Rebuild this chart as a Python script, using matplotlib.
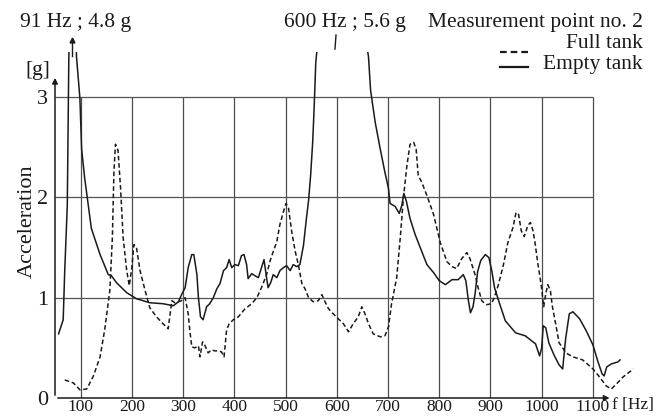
import matplotlib.pyplot as plt

plt.rcParams['font.family'] = ['Liberation Serif', 'DejaVu Serif']

# Empty tank (solid line); peaks at 91 Hz and 600 Hz go past the top and get clipped
empty_f = [57, 66, 69, 74, 76, 77, 85, 92, 98.6, 102, 108, 115, 121, 138, 154, 160, 170, 190,
           209, 235, 261, 281, 291, 297, 304, 310, 317, 321, 327, 330, 334, 339, 346, 352, 359,
           366, 372, 379, 385, 390, 395, 401, 408, 414, 419, 424, 427, 434, 440, 447, 453, 458,
           463, 466, 471, 476, 483, 489, 496, 502, 509, 515, 522, 528, 535, 541, 545, 549, 553,
           556, 559, 600, 662, 666, 675, 685, 694, 701, 704, 714, 722, 727, 731, 736, 743, 753,
           763, 776, 789, 800, 812, 825, 837, 847, 852, 857, 861, 866, 870, 875, 881, 890, 897,
           903, 908, 916, 929, 949, 968, 988, 996, 1000, 1003, 1008, 1014, 1024, 1034, 1041,
           1047, 1054, 1061, 1074, 1087, 1100, 1110, 1118, 1122, 1127, 1136, 1149, 1153]
empty_a = [0.64, 0.78, 1.27, 1.92, 2.91, 3.4, 4.8, 3.4, 2.99, 2.48, 2.19, 1.92, 1.69, 1.43, 1.23,
           1.22, 1.15, 1.05, 0.99, 0.95, 0.94, 0.92, 0.96, 1.03, 1.1, 1.3, 1.43, 1.43, 1.23, 1.0,
           0.81, 0.78, 0.91, 0.94, 1.0, 1.09, 1.14, 1.27, 1.3, 1.38, 1.3, 1.33, 1.32, 1.42, 1.43,
           1.33, 1.19, 1.24, 1.22, 1.2, 1.3, 1.38, 1.2, 1.1, 1.15, 1.23, 1.2, 1.27, 1.3, 1.32,
           1.27, 1.33, 1.31, 1.33, 1.52, 1.8, 1.97, 2.22, 2.55, 2.91, 3.34, 5.6, 3.4, 3.07, 2.75,
           2.48, 2.25, 2.09, 1.94, 1.91, 1.84, 1.92, 2.04, 1.96, 1.79, 1.63, 1.5, 1.33, 1.25,
           1.17, 1.13, 1.18, 1.18, 1.23, 1.17, 0.97, 0.85, 0.91, 1.04, 1.26, 1.37, 1.43, 1.40,
           1.26, 1.1, 0.97, 0.77, 0.65, 0.62, 0.54, 0.42, 0.5, 0.72, 0.7, 0.55, 0.43, 0.33, 0.29,
           0.6, 0.84, 0.86, 0.79, 0.67, 0.53, 0.36, 0.24, 0.22, 0.31, 0.34, 0.36, 0.38]

# Full tank (dashed line)
full_f = [69, 86, 99, 112, 125, 138, 147, 157, 162, 165, 168, 173, 178, 183, 190, 195, 200, 204,
          209, 216, 226, 235, 248, 261, 271, 278, 284, 297, 304, 310, 313, 317, 323, 330, 333,
          338, 342, 349, 355, 362, 368, 375, 380, 385, 390, 398, 408, 421, 434, 444, 453, 463,
          470, 476, 483, 489, 496, 501, 506, 512, 519, 525, 532, 538, 545, 554, 564, 571, 577,
          584, 593, 603, 613, 623, 632, 642, 649, 655, 662, 671, 685, 694, 701, 707, 717, 724,
          730, 737, 743, 750, 755, 759, 766, 776, 789, 802, 815, 825, 834, 844, 854, 860, 870,
          876, 883, 892, 902, 908, 915, 925, 934, 944, 950, 955, 960, 966, 973, 978, 983, 987,
          992, 999, 1004, 1008, 1012, 1017, 1021, 1028, 1034, 1041, 1047, 1061, 1080, 1100,
          1113, 1126, 1136, 1146, 1159, 1179]
full_a = [0.18, 0.15, 0.08, 0.09, 0.22, 0.41, 0.68, 1.07, 1.6, 2.25, 2.53, 2.47, 2.09, 1.6, 1.27,
          1.12, 1.3, 1.53, 1.5, 1.27, 1.07, 0.9, 0.81, 0.74, 0.69, 0.97, 0.95, 0.97, 1.0, 0.84,
          0.68, 0.51, 0.5, 0.52, 0.41, 0.56, 0.53, 0.45, 0.48, 0.47, 0.47, 0.46, 0.41, 0.68,
          0.74, 0.78, 0.81, 0.89, 0.94, 1.0, 1.1, 1.23, 1.37, 1.46, 1.56, 1.73, 1.86, 1.94, 1.89,
          1.66, 1.46, 1.33, 1.14, 1.09, 1.0, 0.96, 0.97, 1.03, 0.96, 0.89, 0.84, 0.79, 0.74,
          0.66, 0.74, 0.81, 0.91, 0.84, 0.74, 0.64, 0.61, 0.62, 0.71, 0.94, 1.2, 1.6, 1.99, 2.32,
          2.53, 2.55, 2.48, 2.22, 2.15, 2.02, 1.83, 1.55, 1.36, 1.31, 1.29, 1.39, 1.45, 1.39,
          1.23, 1.1, 0.97, 0.93, 0.94, 1.01, 1.12, 1.32, 1.55, 1.70, 1.85, 1.83, 1.67, 1.61,
          1.72, 1.75, 1.67, 1.55, 1.36, 1.13, 0.91, 1.04, 1.13, 1.07, 0.91, 0.72, 0.55, 0.5,
          0.45, 0.41, 0.38, 0.29, 0.21, 0.12, 0.09, 0.14, 0.21, 0.29]

x_ticks = [100, 200, 300, 400, 500, 600, 700, 800, 900, 1000, 1100]
y_ticks = [0, 1, 2, 3]

W, H = 666, 418
fig = plt.figure(figsize=(W / 100, H / 100), dpi=100)
# axes: bottom at y=398 px, top (3.45) at y=52 px
ax = fig.add_axes([55 / W, 20 / H, 584 / W, 346 / H])
ax.set_xlim(50, 1190)
ax.set_ylim(0, 3.45)
for s in ax.spines.values():
    s.set_visible(False)

# grid only inside 50..1100 x 0..3
ax.vlines(x_ticks, 0, 3, color='#4d4d4d', lw=0.9, zorder=1)
ax.hlines(y_ticks[1:], 50, 1100, color='#555555', lw=0.9, zorder=1)

ax.plot(empty_f, empty_a, color='#1a1a1a', lw=1.1, zorder=3)
ax.plot(full_f, full_a, color='#1a1a1a', lw=1.1, ls=(0, (3, 1.8)), zorder=3)

# axis arrows
ax.annotate('', xy=(50, 3.22), xytext=(50, 0), annotation_clip=False,
            arrowprops=dict(arrowstyle='-|>', color='#1a1a1a', lw=1.1, mutation_scale=8))
ax.annotate('', xy=(1138, 0), xytext=(50, 0), annotation_clip=False,
            arrowprops=dict(arrowstyle='-|>', color='#1a1a1a', lw=1.1, mutation_scale=8))

ax.set_xticks(x_ticks)
ax.set_yticks(y_ticks)
ax.tick_params(length=0, labelsize=16, colors='#1a1a1a')
ax.tick_params(axis='x', pad=0.5, labelsize=12.5)
ax.tick_params(axis='y', pad=5)


def px(x, y):
    return x / W, 1 - y / H


fs = 15.5
fig.text(*px(27, 221), 'Acceleration', rotation=90, ha='center', va='center', fontsize=16, color='#1a1a1a')
fig.text(*px(38, 71), '[g]', ha='center', va='center', fontsize=fs, color='#1a1a1a')
fig.text(*px(612, 397), 'f [Hz]', ha='left', va='top', fontsize=12.5, color='#1a1a1a')
fig.text(*px(76, 23), '91 Hz ; 4.8 g', ha='center', va='center', fontsize=fs, color='#1a1a1a')
fig.text(*px(345, 23), '600 Hz ; 5.6 g', ha='center', va='center', fontsize=fs, color='#1a1a1a')
fig.text(*px(643, 22), 'Measurement point no. 2', ha='right', va='center', fontsize=fs, color='#1a1a1a')
fig.text(*px(643, 44), 'Full tank', ha='right', va='center', fontsize=fs, color='#1a1a1a')
fig.text(*px(643, 65), 'Empty tank', ha='right', va='center', fontsize=fs, color='#1a1a1a')

# legend samples and pointer marks
fig.add_artist(plt.Line2D([500 / W, 528 / W], [1 - 52 / H] * 2, color='#1a1a1a', lw=1.6, ls=(0, (3, 1.8))))
fig.add_artist(plt.Line2D([500 / W, 528 / W], [1 - 67 / H] * 2, color='#1a1a1a', lw=1.6))
fig.add_artist(plt.Line2D([336 / W, 335 / W], [1 - 35 / H, 1 - 49 / H], color='#1a1a1a', lw=1.0))
fig.add_artist(plt.Line2D([72 / W, 72 / W], [1 - 40 / H, 1 - 56 / H], color='#1a1a1a', lw=1.0))
fig.add_artist(plt.Line2D([72 / W], [1 - 40 / H], marker='^', ms=3.5, color='#1a1a1a'))

fig.savefig('out.png', dpi=100)
